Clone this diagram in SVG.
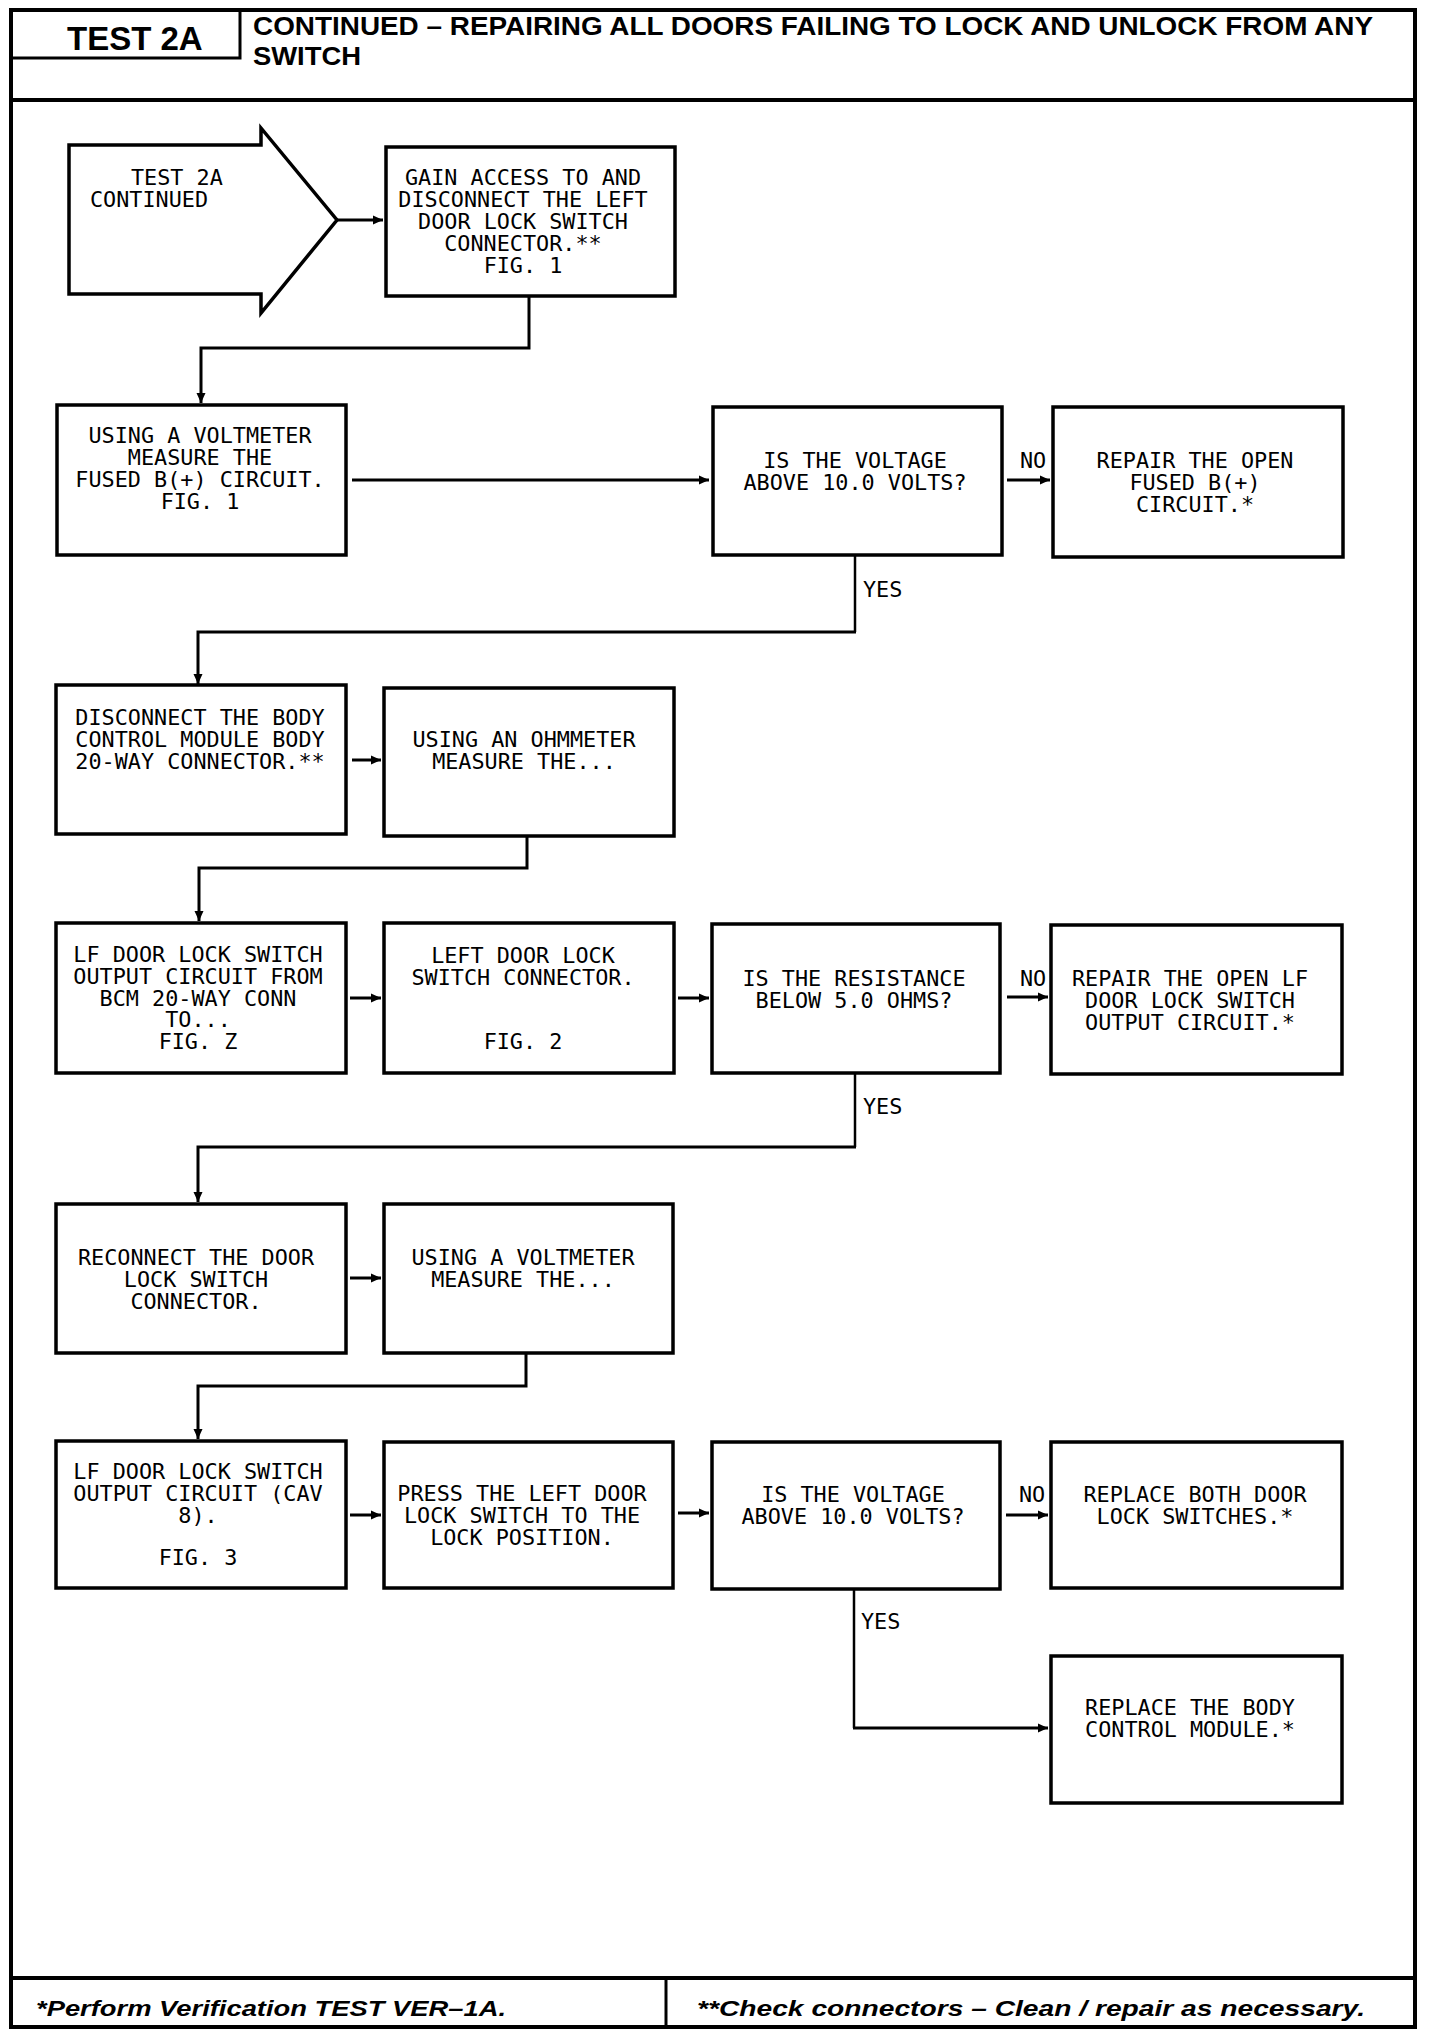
<svg xmlns="http://www.w3.org/2000/svg" width="1440" height="2034" viewBox="0 0 1440 2034">
<style>
.frame{fill:none;stroke:#000;stroke-width:4}
.box{fill:#fff;stroke:#000;stroke-width:3.5}
.c{fill:none;stroke:#000;stroke-width:3}
.cy{fill:none;stroke:#000;stroke-width:2.5}
.t{font-family:"DejaVu Sans Mono","Liberation Mono",monospace;font-size:21.8px;fill:#000;text-anchor:middle}
.l{font-family:"DejaVu Sans Mono","Liberation Mono",monospace;font-size:21.8px;fill:#000}
.h{font-family:"Liberation Sans",Arial,sans-serif;font-weight:bold;fill:#000}
.f{font-family:"Liberation Sans",Arial,sans-serif;font-weight:bold;font-style:italic;font-size:22px;fill:#000}
</style>
<defs>
<marker id="ah" markerUnits="userSpaceOnUse" markerWidth="11" markerHeight="10" refX="10" refY="5" orient="auto"><path d="M0,0.5 L10,5 L0,9.5 z" fill="#000"/></marker>
</defs>
<rect width="1440" height="2034" fill="#fff"/>
<g id="frame">
<rect x="11" y="10" width="1404" height="2017" class="frame"/>
<line x1="11" y1="100" x2="1415" y2="100" class="frame"/>
<path d="M240,10 V58 H11" class="c"/>
<line x1="11" y1="1978" x2="1415" y2="1978" class="frame"/>
<line x1="666" y1="1978" x2="666" y2="2027" class="c"/>
<text class="h" x="67" y="50" font-size="33">TEST 2A</text>
<text class="h" x="253" y="35" font-size="25" textLength="1120" lengthAdjust="spacingAndGlyphs">CONTINUED – REPAIRING ALL DOORS FAILING TO LOCK AND UNLOCK FROM ANY</text>
<text class="h" x="253" y="65" font-size="25" textLength="108" lengthAdjust="spacingAndGlyphs">SWITCH</text>
<text class="f" x="36" y="2016" textLength="470" lengthAdjust="spacingAndGlyphs">*Perform Verification TEST VER–1A.</text>
<text class="f" x="697" y="2016" textLength="668" lengthAdjust="spacingAndGlyphs">**Check connectors – Clean / repair as necessary.</text>
</g>
<g id="connectors">
<line x1="337" y1="220" x2="383" y2="220" class="c" marker-end="url(#ah)"/>
<path d="M529,296 V348 H201 V403" class="c" marker-end="url(#ah)"/>
<path d="M352,480 H709" class="c" marker-end="url(#ah)"/>
<path d="M1007,480 H1050" class="c" marker-end="url(#ah)"/>
<path d="M855,555 V632" class="cy"/>
<path d="M856,632 H198 V684" class="c" marker-end="url(#ah)"/>
<path d="M352,760 H381" class="c" marker-end="url(#ah)"/>
<path d="M527,836 V868 H199 V921" class="c" marker-end="url(#ah)"/>
<path d="M350,998 H381" class="c" marker-end="url(#ah)"/>
<path d="M678,998 H709" class="c" marker-end="url(#ah)"/>
<path d="M1007,997 H1048" class="c" marker-end="url(#ah)"/>
<path d="M855,1073 V1147" class="cy"/>
<path d="M856,1147 H198 V1202" class="c" marker-end="url(#ah)"/>
<path d="M350,1278 H381" class="c" marker-end="url(#ah)"/>
<path d="M526,1353 V1386 H198 V1439" class="c" marker-end="url(#ah)"/>
<path d="M350,1515 H381" class="c" marker-end="url(#ah)"/>
<path d="M678,1513 H709" class="c" marker-end="url(#ah)"/>
<path d="M1006,1515 H1048" class="c" marker-end="url(#ah)"/>
<path d="M854,1589 V1728" class="cy"/>
<path d="M853,1728 H1048" class="c" marker-end="url(#ah)"/>
<text class="l" x="1020" y="468">NO</text>
<text class="l" x="863" y="597">YES</text>
<text class="l" x="1020" y="986">NO</text>
<text class="l" x="863" y="1114">YES</text>
<text class="l" x="1019" y="1502">NO</text>
<text class="l" x="861" y="1629">YES</text>
</g>
<g id="start">
<polygon points="69,145 261,145 261,128 337,220 261,313 261,294 69,294" class="box"/>
<text class="l" x="131" y="185">TEST 2A</text>
<text class="l" x="90" y="207">CONTINUED</text>
</g>
<g id="n1">
<rect x="386" y="147" width="289" height="149" class="box"/>
<text class="t"><tspan x="523" y="185">GAIN ACCESS TO AND</tspan><tspan x="523" y="207">DISCONNECT THE LEFT</tspan><tspan x="523" y="229">DOOR LOCK SWITCH</tspan><tspan x="523" y="251">CONNECTOR.**</tspan><tspan x="523" y="273">FIG. 1</tspan></text>
</g>
<g id="n2">
<rect x="57" y="405" width="289" height="150" class="box"/>
<text class="t"><tspan x="200" y="443">USING A VOLTMETER</tspan><tspan x="200" y="465">MEASURE THE</tspan><tspan x="200" y="487">FUSED B(+) CIRCUIT.</tspan><tspan x="200" y="509">FIG. 1</tspan></text>
</g>
<g id="n3">
<rect x="713" y="407" width="289" height="148" class="box"/>
<text class="t"><tspan x="855" y="468">IS THE VOLTAGE</tspan><tspan x="855" y="490">ABOVE 10.0 VOLTS?</tspan></text>
</g>
<g id="n4">
<rect x="1053" y="407" width="290" height="150" class="box"/>
<text class="t"><tspan x="1195" y="468">REPAIR THE OPEN</tspan><tspan x="1195" y="490">FUSED B(+)</tspan><tspan x="1195" y="512">CIRCUIT.*</tspan></text>
</g>
<g id="n5">
<rect x="56" y="685" width="290" height="149" class="box"/>
<text class="t"><tspan x="200" y="725">DISCONNECT THE BODY</tspan><tspan x="200" y="747">CONTROL MODULE BODY</tspan><tspan x="200" y="769">20-WAY CONNECTOR.**</tspan></text>
</g>
<g id="n6">
<rect x="384" y="688" width="290" height="148" class="box"/>
<text class="t"><tspan x="524" y="747">USING AN OHMMETER</tspan><tspan x="524" y="769">MEASURE THE...</tspan></text>
</g>
<g id="n7">
<rect x="56" y="923" width="290" height="150" class="box"/>
<text class="t"><tspan x="198" y="962">LF DOOR LOCK SWITCH</tspan><tspan x="198" y="984">OUTPUT CIRCUIT FROM</tspan><tspan x="198" y="1006">BCM 20-WAY CONN</tspan><tspan x="198" y="1027">TO...</tspan><tspan x="198" y="1049">FIG. Z</tspan></text>
</g>
<g id="n8">
<rect x="384" y="923" width="290" height="150" class="box"/>
<text class="t"><tspan x="523" y="963">LEFT DOOR LOCK</tspan><tspan x="523" y="985">SWITCH CONNECTOR.</tspan><tspan x="523" y="1049">FIG. 2</tspan></text>
</g>
<g id="n9">
<rect x="712" y="924" width="288" height="149" class="box"/>
<text class="t"><tspan x="854" y="986">IS THE RESISTANCE</tspan><tspan x="854" y="1008">BELOW 5.0 OHMS?</tspan></text>
</g>
<g id="n10">
<rect x="1051" y="925" width="291" height="149" class="box"/>
<text class="t"><tspan x="1190" y="986">REPAIR THE OPEN LF</tspan><tspan x="1190" y="1008">DOOR LOCK SWITCH</tspan><tspan x="1190" y="1030">OUTPUT CIRCUIT.*</tspan></text>
</g>
<g id="n11">
<rect x="56" y="1204" width="290" height="149" class="box"/>
<text class="t"><tspan x="196" y="1265">RECONNECT THE DOOR</tspan><tspan x="196" y="1287">LOCK SWITCH</tspan><tspan x="196" y="1309">CONNECTOR.</tspan></text>
</g>
<g id="n12">
<rect x="384" y="1204" width="289" height="149" class="box"/>
<text class="t"><tspan x="523" y="1265">USING A VOLTMETER</tspan><tspan x="523" y="1287">MEASURE THE...</tspan></text>
</g>
<g id="n13">
<rect x="56" y="1441" width="290" height="147" class="box"/>
<text class="t"><tspan x="198" y="1479">LF DOOR LOCK SWITCH</tspan><tspan x="198" y="1501">OUTPUT CIRCUIT (CAV</tspan><tspan x="198" y="1523">8).</tspan><tspan x="198" y="1565">FIG. 3</tspan></text>
</g>
<g id="n14">
<rect x="384" y="1442" width="289" height="146" class="box"/>
<text class="t"><tspan x="522" y="1501">PRESS THE LEFT DOOR</tspan><tspan x="522" y="1523">LOCK SWITCH TO THE</tspan><tspan x="522" y="1545">LOCK POSITION.</tspan></text>
</g>
<g id="n15">
<rect x="712" y="1442" width="288" height="147" class="box"/>
<text class="t"><tspan x="853" y="1502">IS THE VOLTAGE</tspan><tspan x="853" y="1524">ABOVE 10.0 VOLTS?</tspan></text>
</g>
<g id="n16">
<rect x="1051" y="1442" width="291" height="146" class="box"/>
<text class="t"><tspan x="1195" y="1502">REPLACE BOTH DOOR</tspan><tspan x="1195" y="1524">LOCK SWITCHES.*</tspan></text>
</g>
<g id="n17">
<rect x="1051" y="1656" width="291" height="147" class="box"/>
<text class="t"><tspan x="1190" y="1715">REPLACE THE BODY</tspan><tspan x="1190" y="1737">CONTROL MODULE.*</tspan></text>
</g>
</svg>
